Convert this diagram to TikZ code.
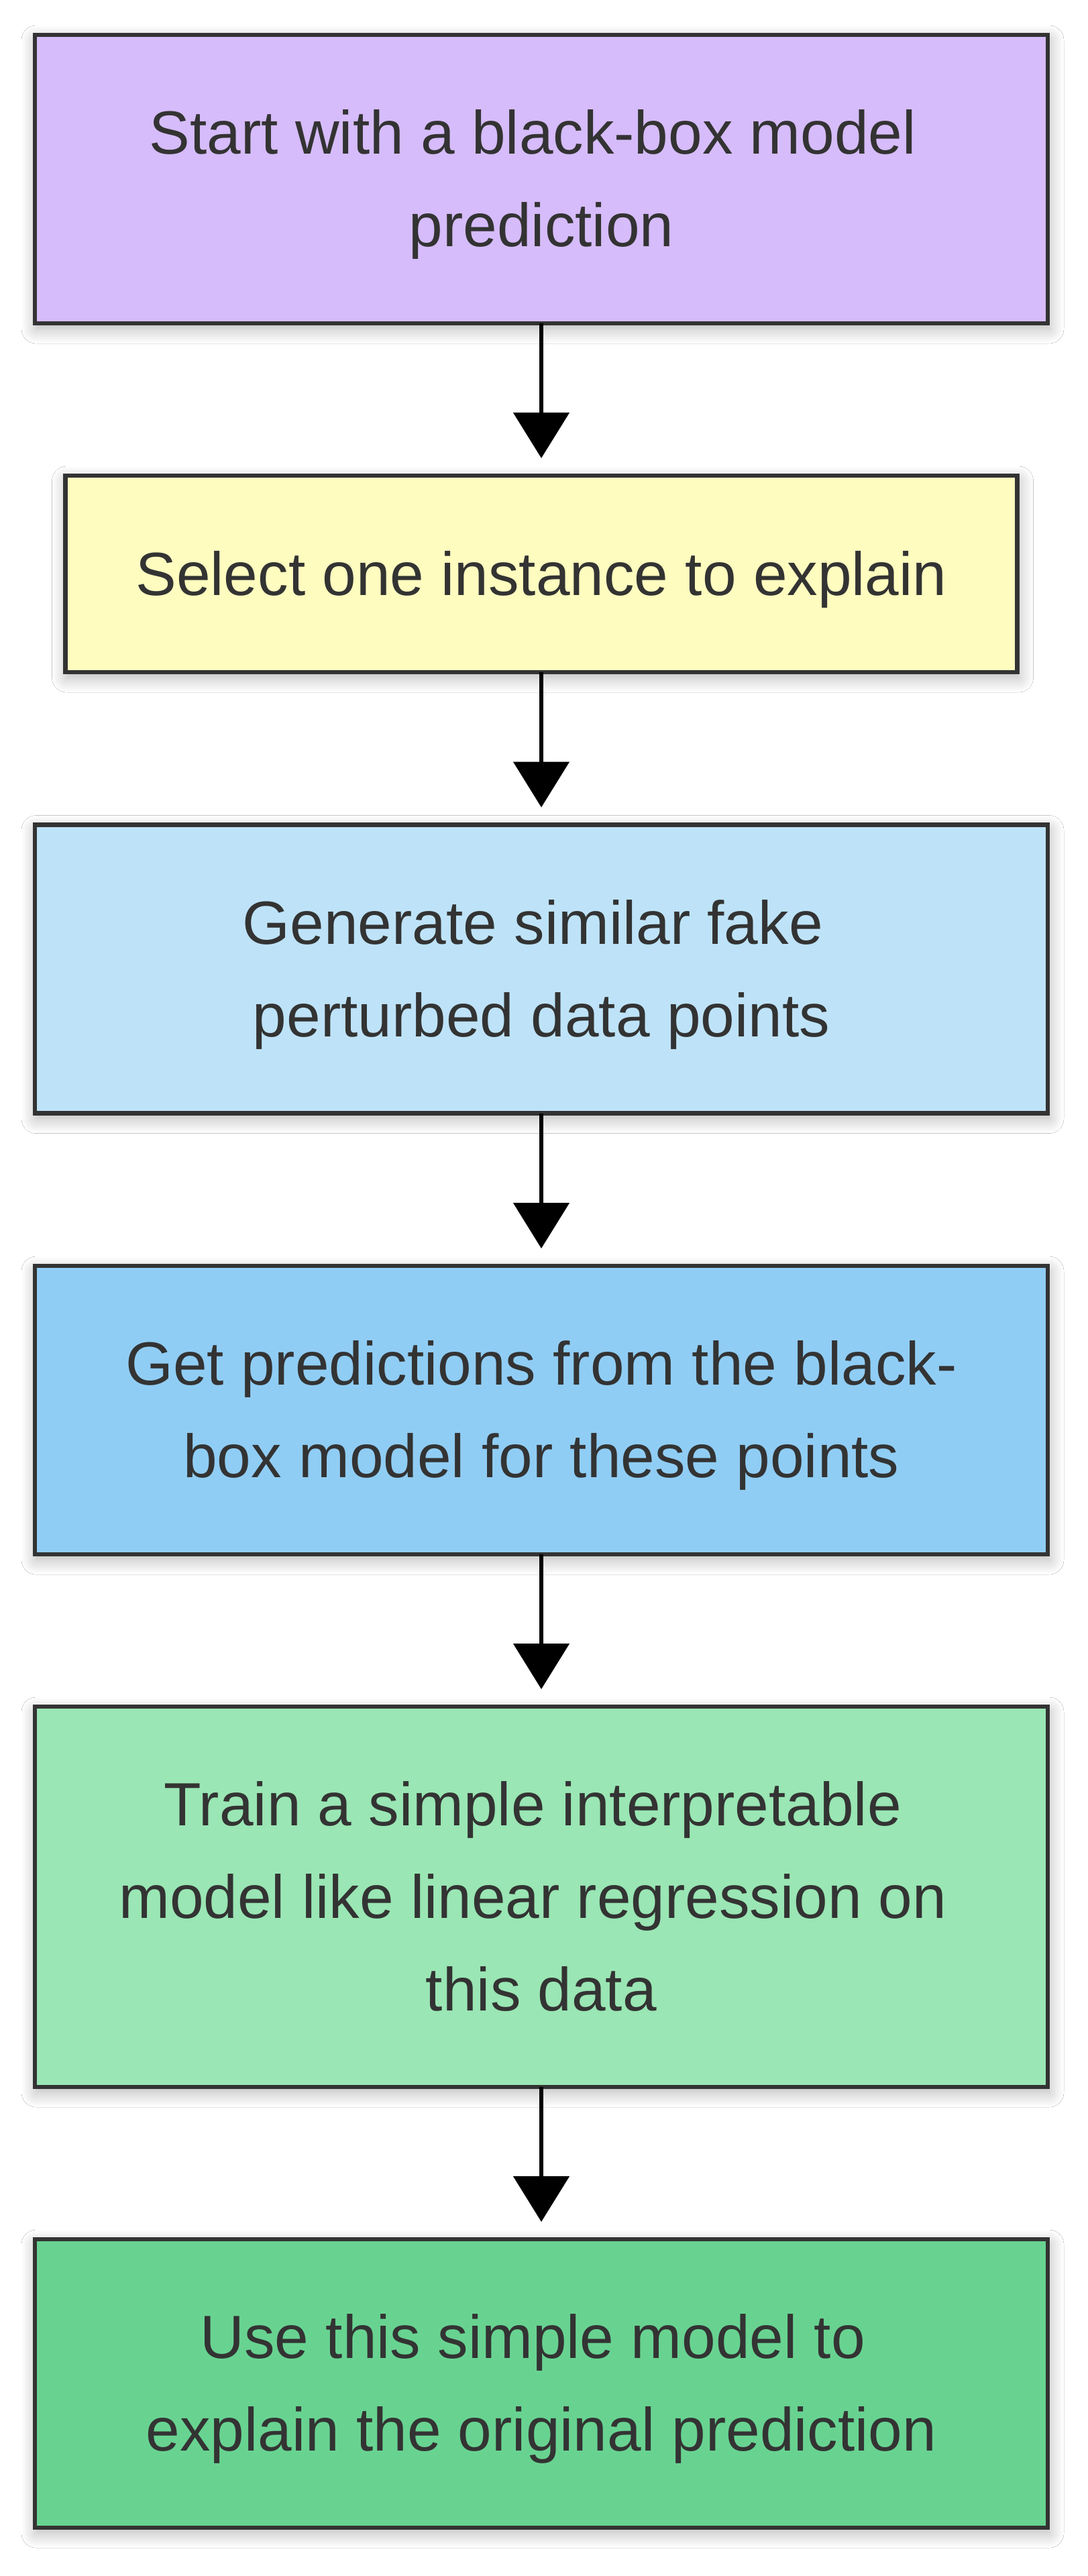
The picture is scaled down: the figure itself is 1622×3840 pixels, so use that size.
\documentclass[tikz,border=0pt]{standalone}
\usepackage{fontspec}
\setmainfont{Liberation Sans}
\usetikzlibrary{arrows.meta,shadows.blur}
\definecolor{cPurple}{HTML}{D6BCFA}
\definecolor{cYellow}{HTML}{FEFCBF}
\definecolor{cLBlue}{HTML}{BEE3F8}
\definecolor{cBlue}{HTML}{90CDF4}
\definecolor{cLGreen}{HTML}{9AE6B4}
\definecolor{cGreen}{HTML}{68D391}
\definecolor{cInk}{HTML}{333333}
\newcommand{\mst}{\rule[-18.55pt]{0pt}{69pt}}
\newcommand{\tsp}{\kern\fontdimen2\font}
\lineskiplimit=-2pt
\begin{document}
\begin{tikzpicture}[x=0.5pt,y=-0.5pt,
  stepbox/.style={draw=cInk, line width=3.25pt, rectangle, inner sep=0pt, outer sep=0pt,
    minimum width=755pt, minimum height=215pt, align=center, text=cInk,
    font=\fontsize{45.5pt}{69pt}\selectfont,
    blur shadow={shadow xshift=1pt, shadow yshift=-4pt, shadow blur radius=11pt, shadow opacity=30, shadow blur steps=16}},
  arr/.style={draw=black, line width=3.3pt, -{Triangle[length=34pt,width=41.3pt]}, shorten >=13pt}
]
\fill[white] (0,0) rectangle (1622,3840);
\useasboundingbox (0,0) rectangle (1622,3840);

\node[stepbox, fill=cPurple] (b1) at (807,267) {\mst Start with a black-box model\tsp\\\mst prediction};
\node[stepbox, fill=cYellow, minimum width=709.5pt, minimum height=146.5pt] (b2) at (807,855.5) {\mst Select one instance to explain};
\node[stepbox, fill=cLBlue] (b3) at (807,1444.5) {\mst Generate similar fake\tsp\\\mst perturbed data points};
\node[stepbox, fill=cBlue] (b4) at (807,2102) {\mst Get predictions from the black-\\\mst box model for these points};
\node[stepbox, fill=cLGreen, minimum height=283.5pt] (b5) at (807,2827.5) {\mst Train a simple interpretable\tsp\\\mst model like linear regression on\tsp\\\mst this data};
\node[stepbox, fill=cGreen] (b6) at (807,3553) {\mst Use this simple model to\tsp\\\mst explain the original prediction};

\draw[arr] (b1.south) -- (b2.north);
\draw[arr] (b2.south) -- (b3.north);
\draw[arr] (b3.south) -- (b4.north);
\draw[arr] (b4.south) -- (b5.north);
\draw[arr] (b5.south) -- (b6.north);
\end{tikzpicture}
\end{document}
